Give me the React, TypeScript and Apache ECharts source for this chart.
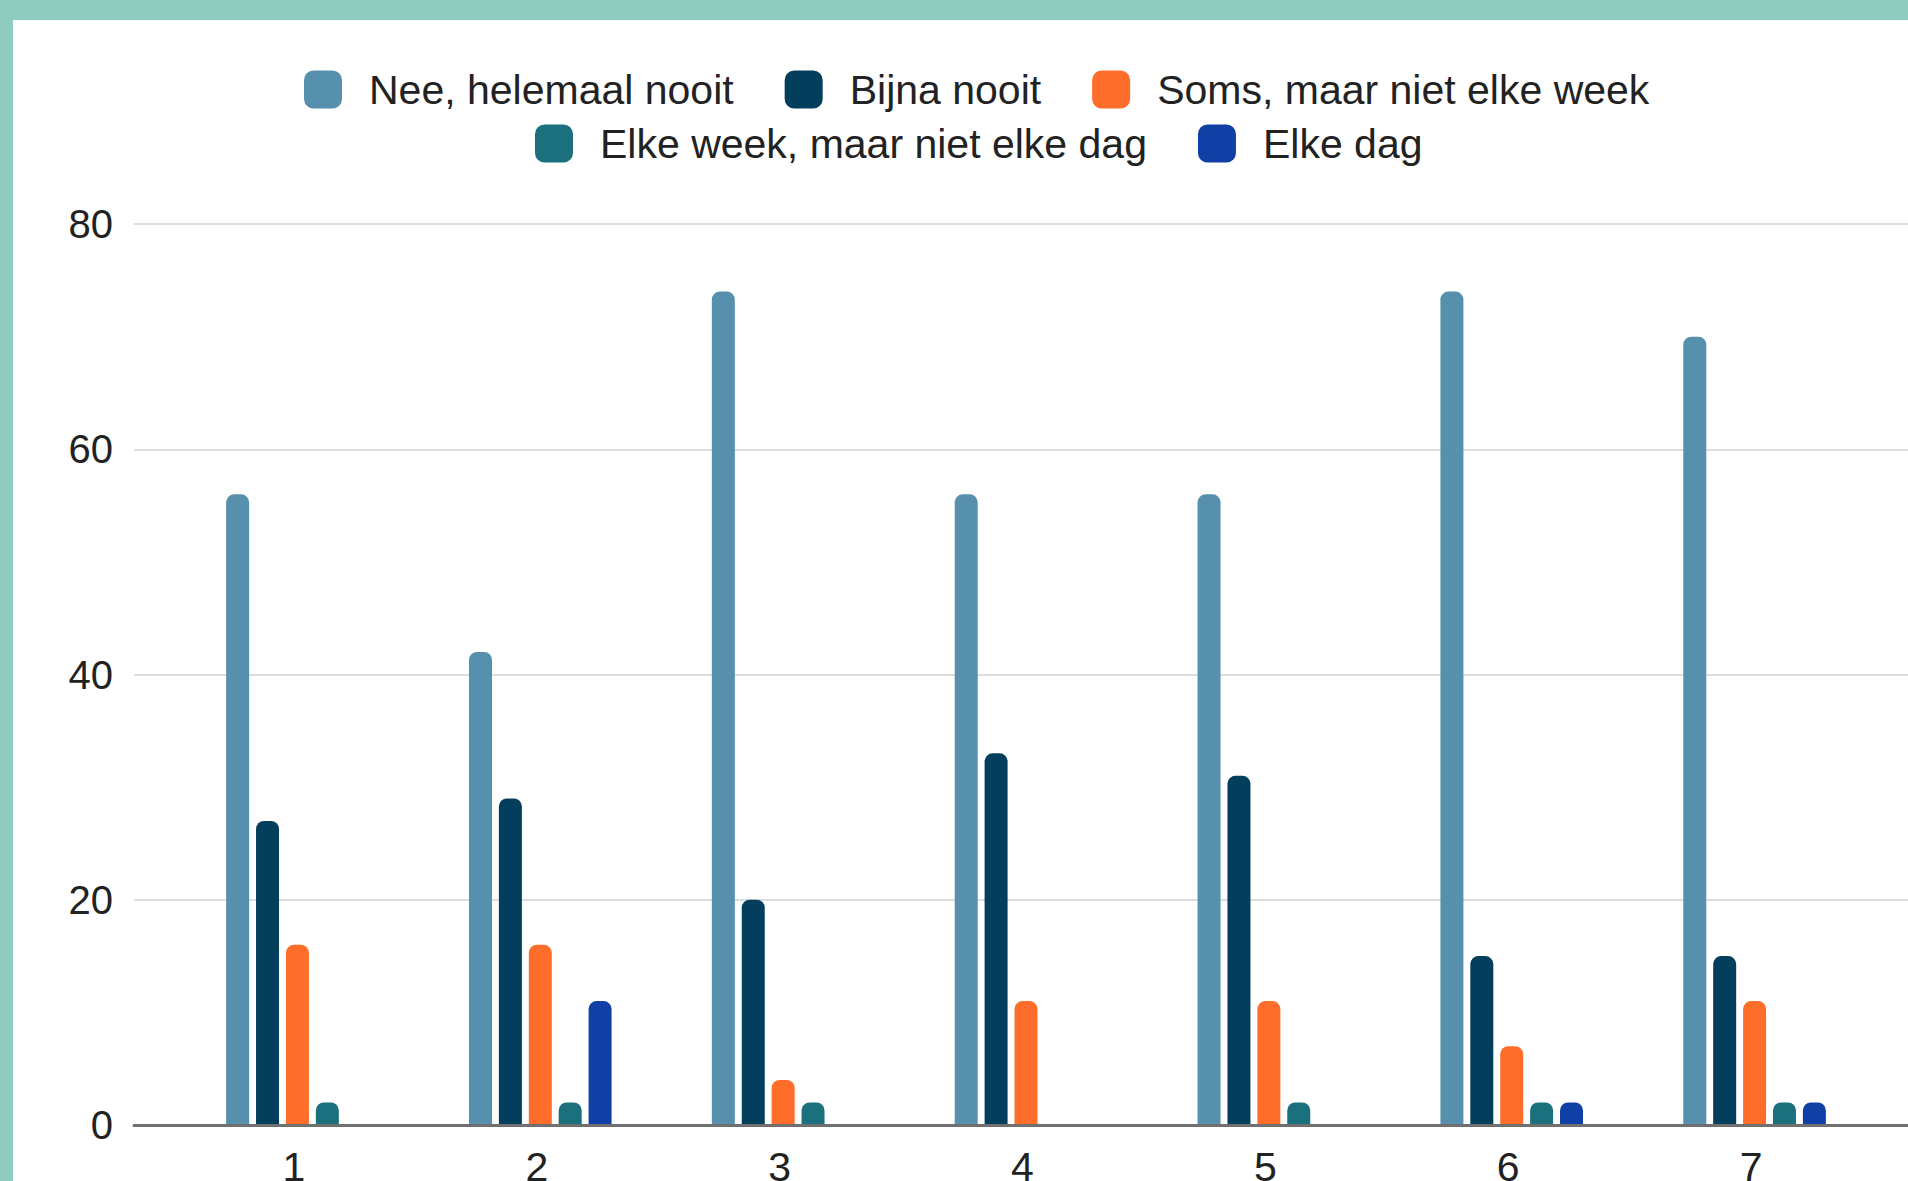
import React, { useEffect, useRef } from "react";
import * as echarts from "echarts";

const categories = ["1", "2", "3", "4", "5", "6", "7"];
const seriesNames = [
  "Nee, helemaal nooit",
  "Bijna nooit",
  "Soms, maar niet elke week",
  "Elke week, maar niet elke dag",
  "Elke dag",
];
const neeHelemaalNooit = [56, 42, 74, 56, 56, 74, 70];
const bijnaNooit = [27, 29, 20, 33, 31, 15, 15];
const somsNietElkeWeek = [16, 16, 4, 11, 11, 7, 11];
const elkeWeekNietElkeDag = [2, 2, 2, 0, 2, 2, 2];
const elkeDag = [0, 11, 0, 0, 0, 2, 2];
const yTicks = [0, 20, 40, 60, 80];

const colors = ["#5690AD", "#033F5C", "#FF6D2A", "#1B707D", "#1040A5"];
const seriesValues = [neeHelemaalNooit, bijnaNooit, somsNietElkeWeek, elkeWeekNietElkeDag, elkeDag];

export default function App() {
  const ref = useRef<HTMLDivElement>(null);
  useEffect(() => {
    document.body.style.margin = "0";
    document.body.style.background = "#8FCDC1";
    const chart = echarts.init(ref.current!, undefined, { renderer: "svg" });
    const font = "'Liberation Sans', Arial, sans-serif";
    const legendCommon = {
      orient: "horizontal" as const,
      itemWidth: 38,
      itemHeight: 38,
      itemGap: 51,
      icon: "roundRect",
      textStyle: { fontSize: 41, color: "#222", fontFamily: font, padding: [0, 0, 0, 22] },
    };
    chart.setOption({
      animation: false,
      backgroundColor: "#ffffff",
      textStyle: { fontFamily: font },
      legend: [
        { ...legendCommon, data: seriesNames.slice(0, 3), left: 286, top: 44 },
        { ...legendCommon, data: seriesNames.slice(3), left: 517, top: 98 },
      ],
      grid: [
        { left: 121, right: -12, top: 204, bottom: 56, outerBoundsMode: "none", containLabel: false },
        { left: 163, right: 32, top: 204, bottom: 56, outerBoundsMode: "none", containLabel: false },
      ],
      xAxis: [
        {
          type: "value",
          gridIndex: 0,
          min: 0,
          max: 1,
          axisLine: { show: true, onZero: false, lineStyle: { color: "#6f6f6f", width: 3 } },
          axisTick: { show: false },
          axisLabel: { show: false },
          splitLine: { show: false },
          z: 5,
        },
        {
          type: "category",
          gridIndex: 1,
          data: categories,
          axisLine: { show: false },
          axisTick: { show: false },
          axisLabel: { fontSize: 41, color: "#222", fontFamily: font, margin: 21, padding: [0, 7, 0, 0] },
        },
      ],
      yAxis: [
        {
          type: "value",
          gridIndex: 0,
          min: yTicks[0],
          max: yTicks[yTicks.length - 1],
          interval: 20,
          axisLine: { show: false },
          axisTick: { show: false },
          axisLabel: { fontSize: 40, color: "#222", fontFamily: font, margin: 21 },
          splitLine: { lineStyle: { color: "#dddddd", width: 2 } },
        },
        {
          type: "value",
          gridIndex: 1,
          min: yTicks[0],
          max: yTicks[yTicks.length - 1],
          interval: 20,
          show: false,
          splitLine: { show: false },
        },
      ],
      series: seriesNames.map((name, i) => ({
        name,
        type: "bar",
        xAxisIndex: 1,
        yAxisIndex: 1,
        data: seriesValues[i],
        barWidth: 23,
        barGap: "30%",
        itemStyle: { color: colors[i], borderRadius: [8, 8, 0, 0] },
      })),
    });
    return () => chart.dispose();
  }, []);
  return (
    <div style={{ width: 1908, height: 1181, background: "#8FCDC1", position: "relative", overflow: "hidden" }}>
      <div
        ref={ref}
        style={{ position: "absolute", left: 13, top: 20, width: 1895, height: 1161 }}
      />
    </div>
  );
}
